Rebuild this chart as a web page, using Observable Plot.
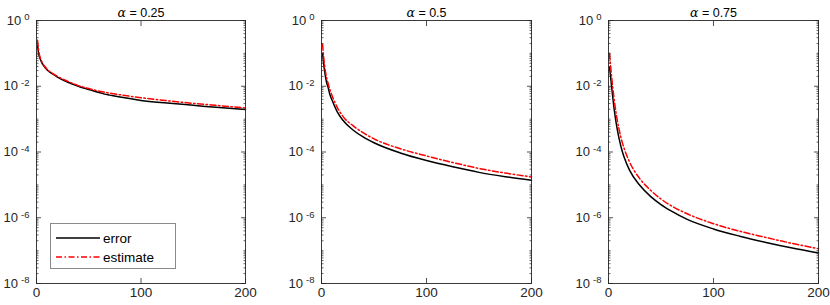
<!DOCTYPE html>
<html><head><meta charset="utf-8">
<script src="https://cdn.jsdelivr.net/npm/d3@7"></script>
<script src="https://cdn.jsdelivr.net/npm/@observablehq/plot@0.6"></script>
<style>
html,body{margin:0;padding:0;background:#fff;}
#chart{position:relative;width:830px;height:305px;font-family:"Liberation Sans",Arial,sans-serif;}
#chart svg.panel{position:absolute;top:0;}
</style></head><body><div id="chart"></div>
<script>
// ---- data (values are log10 of the plotted quantity) ----
const alphas = [0.25, 0.5, 0.75];
const seriesNames = ["error", "estimate"];
const xTicks = [0, 100, 200];
const yTickExps = [0, -2, -4, -6, -8];

const xs1 = [1,2,3,5,8,10,15,20,30,40,50,60,65,70,80,100,125,150,175,200];
const error1Log = [-0.75,-1.0,-1.12,-1.28,-1.42,-1.5,-1.62,-1.72,-1.88,-2.0,-2.1,-2.19,-2.24,-2.27,-2.33,-2.43,-2.51,-2.58,-2.65,-2.71];
const estimate1Log = [-0.6,-0.9,-1.07,-1.25,-1.4,-1.48,-1.6,-1.7,-1.85,-1.98,-2.07,-2.15,-2.18,-2.21,-2.26,-2.35,-2.44,-2.52,-2.59,-2.66];

const xs2 = [1,2,3,4,5,6,8,10,15,20,30,40,50,75,100,125,150,175,200];
const error2Log = [-1.0,-1.3,-1.55,-1.75,-1.9,-2.0,-2.25,-2.42,-2.78,-3.02,-3.33,-3.55,-3.72,-4.03,-4.26,-4.45,-4.62,-4.75,-4.86];
const estimate2Log = [-0.72,-1.1,-1.38,-1.6,-1.76,-1.88,-2.1,-2.28,-2.64,-2.9,-3.2,-3.42,-3.6,-3.9,-4.12,-4.32,-4.5,-4.64,-4.76];

const xs3 = [1,2,3,4,5,6,8,10,13,15,20,30,40,50,60,75,100,125,150,175,200];
const error3Log = [-1.42,-1.72,-2.02,-2.32,-2.6,-2.84,-3.25,-3.58,-3.97,-4.17,-4.55,-5.02,-5.35,-5.6,-5.8,-6.05,-6.34,-6.56,-6.75,-6.92,-7.07];
const estimate3Log = [-1.0,-1.38,-1.72,-2.02,-2.3,-2.55,-2.97,-3.3,-3.7,-3.9,-4.3,-4.82,-5.16,-5.43,-5.64,-5.88,-6.18,-6.41,-6.6,-6.78,-6.94];

// ---- layout ----
const panels = [
  {alpha: alphas[0], xs: xs1, err: error1Log, est: estimate1Log, left: 0,   width: 255, pw: 209, legend: true},
  {alpha: alphas[1], xs: xs2, err: error2Log, est: estimate2Log, left: 285, width: 256, pw: 210},
  {alpha: alphas[2], xs: xs3, err: error3Log, est: estimate3Log, left: 572, width: 258, pw: 210}
];
const axisColor = "#262626";
const redDash = "6,2.5,1.5,2.5";

const yMajor = yTickExps.map(e => 10 ** e);
const yMinor = [];
for (let e = -8; e < 0; e++) for (let m = 2; m <= 10; m++) if (!(m === 10 && (e + 1) % 2 === 0)) yMinor.push(m * 10 ** e);

const chart = document.getElementById("chart");

for (const p of panels) {
  const errData = p.xs.map((x, i) => ({x, y: 10 ** p.err[i]}));
  const estData = p.xs.map((x, i) => ({x, y: 10 ** p.est[i]}));
  const title = `α = ${p.alpha}`;
  const svg = Plot.plot({
    width: p.width, height: 305,
    marginLeft: 36, marginRight: p.width - 36 - p.pw, marginTop: 20, marginBottom: 22,
    x: {domain: [0, 200]},
    y: {type: "log", domain: [1e-8, 1]},
    style: {fontFamily: '"Liberation Sans", Arial, sans-serif', fontSize: "13px", color: axisColor, background: "transparent", overflow: "visible"},
    marks: [
      Plot.line(errData, {x: "x", y: "y", stroke: "#000", strokeWidth: 1.5, curve: "monotone-x"}),
      Plot.line(estData, {x: "x", y: "y", stroke: "#ff0000", strokeWidth: 1.5, strokeDasharray: redDash, curve: "monotone-x"}),
      Plot.frame({stroke: axisColor, strokeWidth: 0.9}),
      Plot.axisY(yMajor, {anchor: "left", tickSize: -5, fill: "none", label: null, stroke: axisColor, strokeWidth: 0.8}),
      Plot.axisY(yMajor, {anchor: "right", tickSize: -5, fill: "none", label: null, stroke: axisColor, strokeWidth: 0.8}),
      Plot.axisY(yMinor, {anchor: "left", tickSize: -2.5, fill: "none", label: null, stroke: axisColor, strokeWidth: 0.7}),
      Plot.axisY(yMinor, {anchor: "right", tickSize: -2.5, fill: "none", label: null, stroke: axisColor, strokeWidth: 0.7}),
      Plot.axisY(yMajor, {anchor: "left", tickSize: 0, tickPadding: 7, label: null, fontSize: 13,
        tickFormat: v => String(Math.round(Math.log10(v)))}),
      Plot.axisX(xTicks, {anchor: "bottom", tickSize: -5, fill: "none", label: null, stroke: axisColor, strokeWidth: 0.8}),
      Plot.axisX(xTicks, {anchor: "top", tickSize: -5, fill: "none", label: null, stroke: axisColor, strokeWidth: 0.8}),
      Plot.axisX(xTicks, {anchor: "bottom", tickSize: 0, tickPadding: 4, label: null, fontSize: 13.5}),
      Plot.text([title], {text: d => d, frameAnchor: "top", dy: -12, fontSize: 12.5, fill: "#000"})
    ]
  });
  svg.classList.add("panel");
  svg.style.left = p.left + "px";
  const s = d3.select(svg);
  // superscript exponents on y tick labels
  s.selectAll('g[aria-label="y-axis tick label"] text').each(function () {
    const e = this.textContent;
    const t = d3.select(this);
    t.text("");
    t.append("tspan").text("10");
    t.append("tspan").attr("dx", 3).attr("dy", "-0.45em").attr("font-size", "9.5px").text(e);
  });
  // italic alpha in the title
  s.selectAll('g[aria-label="text"] text').each(function () {
    const txt = this.textContent;
    const t = d3.select(this);
    t.text("");
    t.append("tspan").attr("font-style", "italic").attr("font-family", "DejaVu Serif, serif").text(txt.slice(0, 1));
    t.append("tspan").text(txt.slice(1));
  });
  chart.appendChild(svg);

  if (p.legend) {
    const lg = d3.select(chart).append("svg")
      .style("position", "absolute").style("left", "50px").style("top", "223px")
      .attr("width", 127).attr("height", 47);
    lg.append("rect").attr("x", 0.5).attr("y", 0.5).attr("width", 125).attr("height", 45)
      .attr("fill", "#fff").attr("stroke", "#8a8a8a").attr("stroke-width", 1);
    const rows = [
      {name: seriesNames[0], stroke: "#000", dash: null, y: 15},
      {name: seriesNames[1], stroke: "#ff0000", dash: redDash, y: 34}
    ];
    for (const r of rows) {
      lg.append("line").attr("x1", 6).attr("x2", 50).attr("y1", r.y).attr("y2", r.y)
        .attr("stroke", r.stroke).attr("stroke-width", 1.5).attr("stroke-dasharray", r.dash);
      lg.append("text").attr("x", 53).attr("y", r.y).attr("dy", "0.35em")
        .attr("font-family", '"Liberation Sans", Arial, sans-serif').attr("font-size", 13.5)
        .attr("fill", "#000").text(r.name);
    }
  }
}
</script></body></html>
